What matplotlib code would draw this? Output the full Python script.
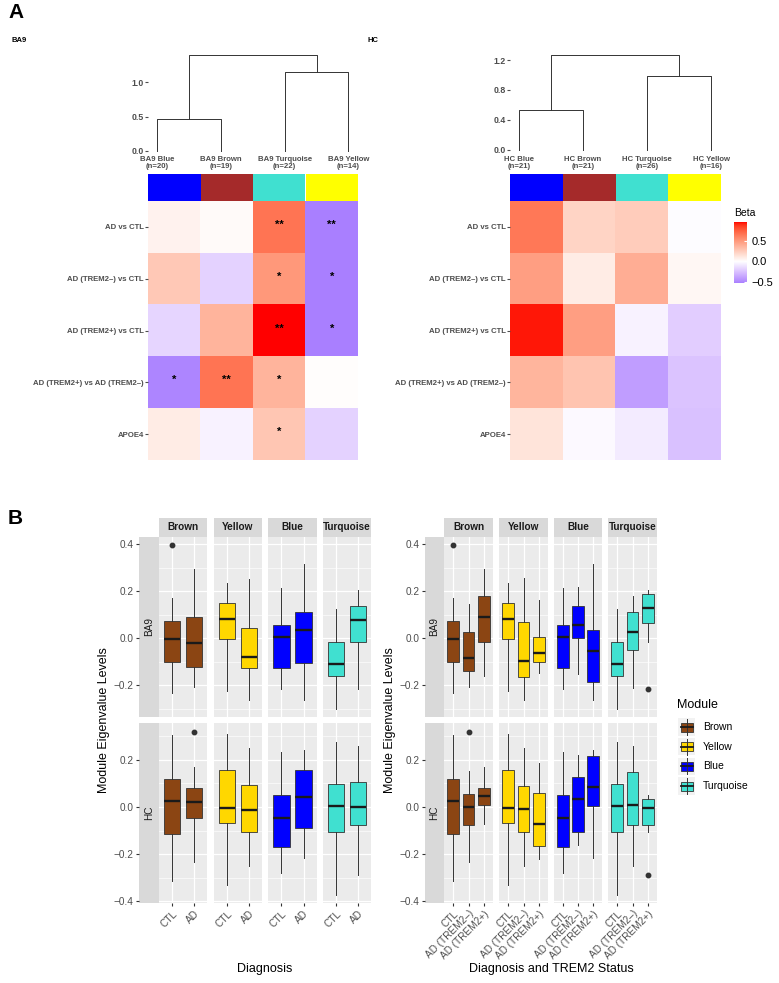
import numpy as np
import matplotlib
matplotlib.use("Agg")
import matplotlib.pyplot as plt
import matplotlib.colors as mcolors
from matplotlib.patches import Rectangle

plt.rcParams['font.family'] = ['Liberation Sans', 'DejaVu Sans']

# ---------------- data ----------------
heat_rows = ["AD vs CTL", "AD (TREM2–) vs CTL", "AD (TREM2+) vs CTL",
             "AD (TREM2+) vs AD (TREM2–)", "APOE4"]
dendro_modules = ["Blue", "Brown", "Turquoise", "Yellow"]
dendro_colors = ["#0000FF", "#A52A2A", "#40E0D0", "#FFFF00"]
ba9_n = [20, 19, 22, 14]
hc_n = [21, 21, 26, 16]
# merge heights: (Blue,Brown), (Turquoise,Yellow), root
ba9_heights = [0.47, 1.15, 1.40]
hc_heights = [0.53, 0.98, 1.26]

ba9_beta = [
    [0.06, 0.02, 0.66, -0.52],
    [0.27, -0.18, 0.50, -0.52],
    [-0.17, 0.37, 0.95, -0.52],
    [-0.50, 0.66, 0.37, 0.01],
    [0.09, -0.05, 0.28, -0.18],
]
hc_beta = [
    [0.64, 0.21, 0.25, -0.01],
    [0.47, 0.09, 0.40, 0.04],
    [0.93, 0.47, -0.05, -0.20],
    [0.36, 0.29, -0.40, -0.24],
    [0.13, -0.02, -0.08, -0.25],
]
ba9_stars = [
    ["", "", "**", "**"],
    ["", "", "*", "*"],
    ["", "", "**", "*"],
    ["*", "**", "*", ""],
    ["", "", "*", ""],
]

modules = ["Brown", "Yellow", "Blue", "Turquoise"]
box_colors = ["#8B4513", "#FFD700", "#0000FF", "#40E0D0"]
diag_groups = ["CTL", "AD"]
trem_groups = ["CTL", "AD (TREM2–)", "AD (TREM2+)"]

# [whislo, q1, median, q3, whishi] per module, per group
ba9_diag = [
    [[-0.235, -0.100, -0.003, 0.074, 0.169], [-0.210, -0.125, -0.023, 0.089, 0.292]],
    [[-0.224, -0.003, 0.082, 0.148, 0.235], [-0.264, -0.129, -0.082, 0.041, 0.252]],
    [[-0.217, -0.126, 0.003, 0.057, 0.211], [-0.264, -0.105, 0.034, 0.111, 0.313]],
    [[-0.300, -0.160, -0.109, -0.016, 0.122], [-0.217, -0.016, 0.078, 0.136, 0.204]],
]
ba9_diag_out = [[[0.394], []], [[], []], [[], []], [[], []]]

hc_diag = [
    [[-0.316, -0.115, 0.024, 0.119, 0.305], [-0.234, -0.048, 0.020, 0.082, 0.169]],
    [[-0.330, -0.068, -0.006, 0.156, 0.311], [-0.252, -0.108, -0.014, 0.094, 0.251]],
    [[-0.279, -0.169, -0.047, 0.050, 0.234], [-0.217, -0.088, 0.044, 0.157, 0.243]],
    [[-0.376, -0.108, 0.006, 0.096, 0.277], [-0.288, -0.078, 0.000, 0.106, 0.260]],
]
hc_diag_out = [[[], [0.32]], [[], []], [[], []], [[], []]]

ba9_trem = [
    [[-0.235, -0.100, -0.003, 0.074, 0.169], [-0.210, -0.139, -0.084, 0.026, 0.145],
     [-0.162, -0.016, 0.088, 0.180, 0.294]],
    [[-0.224, -0.003, 0.082, 0.148, 0.235], [-0.264, -0.165, -0.098, 0.070, 0.254],
     [-0.148, -0.100, -0.064, 0.006, 0.162]],
    [[-0.217, -0.126, 0.003, 0.057, 0.211], [-0.155, 0.000, 0.055, 0.135, 0.218],
     [-0.264, -0.186, -0.057, 0.034, 0.313]],
    [[-0.300, -0.160, -0.109, -0.016, 0.122], [-0.214, -0.050, 0.026, 0.111, 0.177],
     [-0.016, 0.065, 0.129, 0.186, 0.204]],
]
ba9_trem_out = [[[0.394], [], []], [[], [], []], [[], [], []], [[], [], [-0.217]]]

hc_trem = [
    [[-0.316, -0.115, 0.024, 0.119, 0.305], [-0.234, -0.078, 0.000, 0.054, 0.152],
     [-0.071, 0.010, 0.048, 0.082, 0.169]],
    [[-0.330, -0.068, -0.006, 0.156, 0.311], [-0.252, -0.106, -0.009, 0.091, 0.251],
     [-0.221, -0.165, -0.072, 0.058, 0.187]],
    [[-0.279, -0.169, -0.047, 0.050, 0.234], [-0.162, -0.105, 0.034, 0.126, 0.223],
     [-0.217, 0.006, 0.085, 0.218, 0.243]],
    [[-0.376, -0.108, 0.006, 0.096, 0.277], [-0.250, -0.078, 0.009, 0.149, 0.260],
     [-0.108, -0.078, -0.006, 0.033, 0.051]],
]
hc_trem_out = [[[], [0.32], []], [[], [], []], [[], [], []], [[], [], [-0.288]]]

# ---------------- helpers ----------------
W, H = 779, 983
fig = plt.figure(figsize=(W / 100, H / 100), dpi=100)


def add_ax(x0, y0, x1, y1):
    return fig.add_axes([x0 / W, 1 - y1 / H, (x1 - x0) / W, (y1 - y0) / H])


WHITE = np.array([0.95047, 1.0, 1.08883])
M = np.array([[0.4124, 0.3576, 0.1805], [0.2126, 0.7152, 0.0722], [0.0193, 0.1192, 0.9505]])
MINV = np.linalg.inv(M)


def to_lab(c):
    rgb = np.array(mcolors.to_rgb(c))
    lin = np.where(rgb <= 0.04045, rgb / 12.92, ((rgb + 0.055) / 1.055) ** 2.4)
    xyz = M @ lin / WHITE
    f = np.where(xyz > 0.008856, np.cbrt(xyz), 7.787 * xyz + 16 / 116)
    return np.array([116 * f[1] - 16, 500 * (f[0] - f[1]), 200 * (f[1] - f[2])])


def from_lab(lab):
    L, a, b = lab
    fy = (L + 16) / 116
    f = np.array([fy + a / 500, fy, fy - b / 200])
    xyz = np.where(f ** 3 > 0.008856, f ** 3, (f - 16 / 116) / 7.787) * WHITE
    lin = MINV @ xyz
    rgb = np.where(lin <= 0.0031308, 12.92 * lin, 1.055 * np.abs(lin) ** (1 / 2.4) - 0.055)
    return np.clip(rgb, 0, 1)


lab_lo, lab_mid, lab_hi = to_lab("blue"), to_lab("white"), to_lab("red")
cols = []
for t in np.linspace(0, 1, 512):
    if t < 0.5:
        s = t / 0.5
        cols.append(from_lab(lab_lo + (lab_mid - lab_lo) * s))
    else:
        s = (t - 0.5) / 0.5
        cols.append(from_lab(lab_mid + (lab_hi - lab_mid) * s))
cmap = mcolors.ListedColormap(cols)
all_beta = np.array(ba9_beta + hc_beta)
lim = np.abs(all_beta).max()
norm = mcolors.Normalize(-lim, lim)

GRAY_TXT = "#4D4D4D"

# ---------------- panel A ----------------
fig.text(8 / W, 1 - 12 / H, "A", fontsize=15, fontweight="bold", va="center", ha="left")
fig.text(12 / W, 1 - 40 / H, "BA9", fontsize=5.5, fontweight="bold", va="center")
fig.text(368 / W, 1 - 40 / H, "HC", fontsize=5.5, fontweight="bold", va="center")


def dendro(x0, x1, zero_px, px_per_unit, heights, ticks, ticklabels, prefix, ns):
    ax = add_ax(x0, 45, x1, 174)
    h0, h1, h2 = heights
    lc = dict(color="#333333", lw=0.7)
    ax.plot([1, 1, 2, 2], [0, h0, h0, 0], **lc)
    ax.plot([3, 3, 4, 4], [0, h1, h1, 0], **lc)
    ax.plot([1.5, 1.5, 3.5, 3.5], [h0, h2, h2, h1], **lc)
    ax.set_xlim(0.86, 4.15)
    ax.set_ylim((zero_px - 174) / px_per_unit, (zero_px - 45) / px_per_unit)
    ax.set_yticks(ticks)
    ax.set_yticklabels(ticklabels, fontsize=6.3, fontweight="bold", color=GRAY_TXT)
    ax.tick_params(axis="y", length=2, color=GRAY_TXT, pad=1)
    ax.set_xticks([])
    for s in ax.spines.values():
        s.set_visible(False)
    ax.patch.set_alpha(0)
    for i, (m, n) in enumerate(zip(dendro_modules, ns)):
        ax.text(i + 1, 0.085, f"{prefix} {m}\n(n={n})", transform=ax.get_xaxis_transform(),
                ha="center", va="center", fontsize=5.6, fontweight="bold",
                color=GRAY_TXT, linespacing=1.0)
    return ax


dendro(148, 358, 151, 68.6, ba9_heights, [0, 0.5, 1.0], ["0.0", "0.5", "1.0"], "BA9", ba9_n)
dendro(510, 721, 150, 75, hc_heights, [0, 0.4, 0.8, 1.2], ["0.0", "0.4", "0.8", "1.2"], "HC", hc_n)


def heat(x0, x1, vals, stars):
    axc = add_ax(x0, 174, x1, 201)
    axc.bar(range(4), [1] * 4, width=1.0, color=dendro_colors)
    axc.set_xlim(-0.5, 3.5)
    axc.set_ylim(0, 1)
    axc.axis("off")
    ax = add_ax(x0, 201, x1, 460)
    ax.imshow(np.array(vals), cmap=cmap, norm=norm, aspect="auto", interpolation="nearest")
    ax.set_xlim(-0.5, 3.5)
    ax.set_ylim(4.5, -0.5)
    ax.set_xticks([])
    ax.set_yticks(range(len(heat_rows)))
    ax.set_yticklabels(heat_rows, fontsize=5.6, fontweight="bold", color=GRAY_TXT)
    ax.tick_params(axis="y", length=2, color=GRAY_TXT, pad=1)
    for s in ax.spines.values():
        s.set_visible(False)
    if stars:
        for i, row in enumerate(stars):
            for j, st in enumerate(row):
                if st:
                    ax.text(j, i - 0.04, st, ha="center", va="center", fontsize=8,
                            fontweight="bold", color="black")


heat(148, 358, ba9_beta, ba9_stars)
heat(510, 721, hc_beta, None)

# Beta colorbar
fig.text(734 / W, 1 - 213 / H, "Beta", fontsize=7.5, va="center", ha="left")
cax = add_ax(734, 222, 747, 283)
bmin, bmax = all_beta.min(), all_beta.max()
grad = np.linspace(bmin, bmax, 300)[:, None]
cax.imshow(grad, cmap=cmap, norm=norm, aspect="auto", origin="lower",
           extent=[0, 1, bmin, bmax])
cax.set_xlim(0, 1)
cax.set_ylim(bmin, bmax)
cax.set_xticks([])
cax.yaxis.tick_right()
cax.set_yticks([-0.5, 0.0, 0.5])
cax.set_yticklabels(["\u22120.5", "0.0", "0.5"], fontsize=8)
cax.tick_params(axis="y", direction="in", color="white", length=2.5, pad=3)
for s in cax.spines.values():
    s.set_visible(False)

# ---------------- panel B ----------------
fig.text(8 / W, 1 - 519 / H, "B", fontsize=15, fontweight="bold", va="center", ha="left")

STRIP = "#D9D9D9"
PANEL = "#EBEBEB"
strip_y = (518, 537)
row_y = {"BA9": (537, 717), "HC": (723, 903)}
row_lim = {"BA9": (-0.336, 0.43), "HC": (-0.408, 0.357)}
row_ticks = {"BA9": [-0.2, 0.0, 0.2, 0.4], "HC": [-0.4, -0.2, 0.0, 0.2]}
row_minor = [-0.3, -0.1, 0.1, 0.3]


def fmt(v):
    s = f"{v:.1f}"
    return s.replace("-", "\u2212") if v < 0 else s


def box_group(cols_x, strip_x, groups, data_by_row, out_by_row, ylab_x, xlabel, xlabel_x):
    ng = len(groups)
    for (cx0, cx1), m in zip(cols_x, modules):
        sa = add_ax(cx0, strip_y[0], cx1, strip_y[1])
        sa.set_facecolor(STRIP)
        sa.set_xticks([]); sa.set_yticks([])
        for s in sa.spines.values():
            s.set_visible(False)
        sa.text(0.5, 0.5, m, ha="center", va="center", fontsize=7.2, fontweight="bold",
                color="#1A1A1A", transform=sa.transAxes)
    for row in ["BA9", "HC"]:
        y0, y1 = row_y[row]
        lo, hi = row_lim[row]
        ra = add_ax(strip_x[0], y0, strip_x[1], y1)
        ra.set_facecolor(STRIP)
        ra.set_ylim(lo, hi)
        ra.set_xticks([])
        ra.set_yticks(row_ticks[row])
        ra.set_yticklabels([fmt(v) for v in row_ticks[row]], fontsize=7.2, color=GRAY_TXT)
        ra.tick_params(axis="y", length=2.5, color="#333333", pad=1.5)
        for s in ra.spines.values():
            s.set_visible(False)
        ra.text(0.5, 0.5, row, rotation=90, ha="center", va="center", fontsize=7.2,
                color="#1A1A1A", transform=ra.transAxes)
        data = data_by_row[row]
        outs = out_by_row[row]
        for k, ((cx0, cx1), c) in enumerate(zip(cols_x, box_colors)):
            ax = add_ax(cx0, y0, cx1, y1)
            ax.set_facecolor(PANEL)
            ax.set_axisbelow(True)
            stats = []
            for g in range(ng):
                lo_w, q1, med, q3, hi_w = data[k][g]
                stats.append(dict(whislo=lo_w, q1=q1, med=med, q3=q3, whishi=hi_w,
                                  fliers=outs[k][g]))
            ax.bxp(stats, positions=range(1, ng + 1), widths=0.75, patch_artist=True,
                   showcaps=False,
                   boxprops=dict(facecolor=c, edgecolor="#333333", lw=0.6),
                   medianprops=dict(color="#1A1A1A", lw=1.7),
                   whiskerprops=dict(color="#333333", lw=0.7),
                   flierprops=dict(marker="o", markerfacecolor="#333333",
                                   markeredgecolor="#333333", markersize=3.2))
            ax.set_xlim(0.4, ng + 0.6)
            ax.set_ylim(lo, hi)
            ax.set_yticks(row_ticks[row])
            ax.set_yticks(row_minor, minor=True)
            ax.set_xticks(range(1, ng + 1))
            ax.grid(which="major", color="white", lw=0.9)
            ax.grid(which="minor", axis="y", color="white", lw=0.45)
            ax.tick_params(axis="y", which="both", length=0, labelleft=False)
            for s in ax.spines.values():
                s.set_visible(False)
            if row == "HC":
                ax.set_xticklabels(groups, rotation=45, ha="right", rotation_mode="anchor",
                                   fontsize=7.2, color=GRAY_TXT)
                ax.tick_params(axis="x", length=2.5, color="#333333", pad=1.5)
            else:
                ax.tick_params(axis="x", length=0, labelbottom=False)
    fig.text(ylab_x / W, 1 - 720 / H, "Module Eigenvalue Levels", rotation=90,
             ha="center", va="center", fontsize=9)
    fig.text(xlabel_x / W, 1 - 969 / H, xlabel, ha="center", va="center", fontsize=9)


left_cols = [(159, 207), (214, 262), (268, 317), (323, 371)]
right_cols = [(444, 493), (499, 548), (554, 602), (608, 657)]

box_group(left_cols, (139, 159), diag_groups,
          {"BA9": ba9_diag, "HC": hc_diag}, {"BA9": ba9_diag_out, "HC": hc_diag_out},
          104, "Diagnosis", 265)
box_group(right_cols, (425, 444), trem_groups,
          {"BA9": ba9_trem, "HC": hc_trem}, {"BA9": ba9_trem_out, "HC": hc_trem_out},
          390, "Diagnosis and TREM2 Status", 551)

# Module legend
lax = add_ax(660, 690, 779, 800)
lax.set_xlim(660, 779)
lax.set_ylim(800, 690)
lax.axis("off")
lax.text(677, 705, "Module", fontsize=9, va="center", ha="left")
for i, (m, c) in enumerate(zip(modules, box_colors)):
    yc = 727 + 19.7 * i
    lax.add_patch(Rectangle((678, yc - 8.7), 17.4, 17.4, facecolor="#F2F2F2", edgecolor="none"))
    lax.plot([686.7, 686.7], [yc - 8, yc + 8], color="#333333", lw=0.7)
    lax.add_patch(Rectangle((680.5, yc - 4.5), 12.4, 9, facecolor=c, edgecolor="#333333", lw=0.6))
    lax.plot([680.5, 692.9], [yc, yc], color="#1A1A1A", lw=1.3)
    lax.text(703, yc, m, fontsize=7.5, va="center", ha="left")

fig.savefig("out.png", dpi=100)
